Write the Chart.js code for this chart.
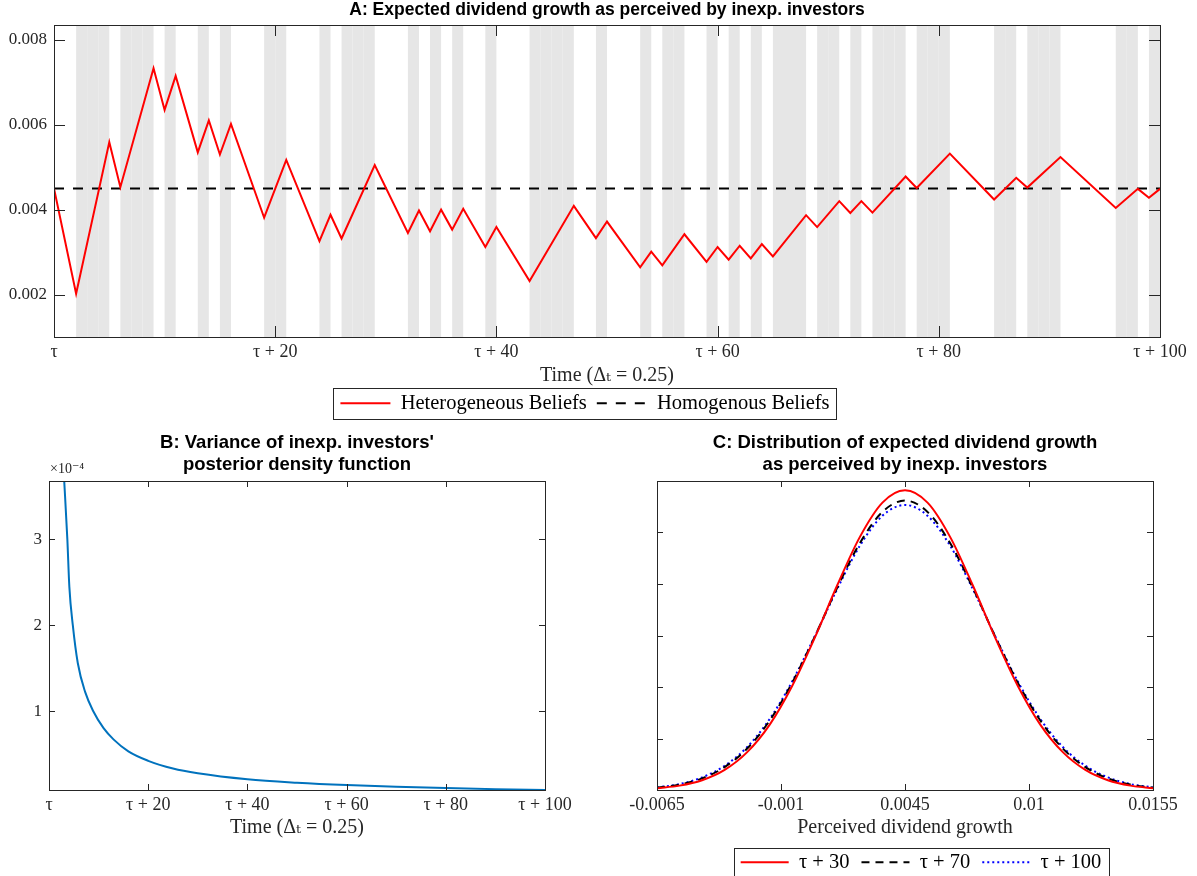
<!DOCTYPE html>
<html>
<head>
<meta charset="utf-8">
<script src="https://cdn.jsdelivr.net/npm/chart.js@4.4.1/dist/chart.umd.min.js"></script>
<style>
  html, body { margin: 0; padding: 0; background: #fff; overflow: hidden; width: 1197px; height: 876px; }
  canvas { position: absolute; display: block; }
  #chartA { left: 0; top: 0; }
  #chartB { left: 0; top: 430px; }
  #chartC { left: 600px; top: 430px; }
</style>
</head>
<body>
<canvas id="chartA" width="1197" height="425"></canvas>
<canvas id="chartB" width="600" height="446"></canvas>
<canvas id="chartC" width="597" height="460"></canvas>
<script>
// ---------- Panel A: expected dividend growth perceived by inexperienced investors ----------
const beliefTimes = [0, 2, 5, 6, 9, 10, 11, 13, 14, 15, 16, 19, 21, 24, 25, 26, 29, 32, 33, 34, 35, 36, 37,
  39, 40, 43, 47, 49, 50, 53, 54, 55, 57, 59, 60, 61, 62, 63, 64, 65, 68, 69, 71, 72, 73, 74, 77, 78, 81,
  85, 87, 88, 91, 96, 98, 99, 100];
const heterogeneousGrowth = [0.0045, 0.00202, 0.00559, 0.00453, 0.00733, 0.00635, 0.00715, 0.00535, 0.0061,
  0.0053, 0.00602, 0.00381, 0.00517, 0.00326, 0.00388, 0.00332, 0.00505, 0.00345, 0.00398, 0.00349, 0.0040,
  0.00353, 0.00402, 0.00312, 0.00359, 0.00232, 0.00409, 0.00333, 0.00372, 0.00264, 0.00301, 0.00269, 0.00342,
  0.00277, 0.00312, 0.00282, 0.00315, 0.00285, 0.00319, 0.0029, 0.00387, 0.00359, 0.0042, 0.00392, 0.0042,
  0.00393, 0.00478, 0.00451, 0.00532, 0.00424, 0.00475, 0.00452, 0.00524, 0.00404, 0.00449, 0.00428, 0.00449];
const homogeneousGrowth = 0.0045;
// periods with a positive dividend signal (shaded)
const shadedPeriods = [[2, 5], [6, 9], [10, 11], [13, 14], [15, 16], [19, 21], [24, 25], [26, 29], [32, 33],
  [34, 35], [36, 37], [39, 40], [43, 47], [49, 50], [53, 54], [55, 57], [59, 60], [61, 62], [63, 64], [65, 68],
  [69, 71], [72, 73], [74, 77], [78, 81], [85, 87], [88, 91], [96, 98], [99, 100]];
const timeTicks = [0, 20, 40, 60, 80, 100];
const timeTickLabels = ['τ', 'τ + 20', 'τ + 40', 'τ + 60', 'τ + 80', 'τ + 100'];
const growthTicks = [0.002, 0.004, 0.006, 0.008];
const growthTickLabels = ['0.002', '0.004', '0.006', '0.008'];

// ---------- Panel B: posterior variance (in units of 1e-4) ----------
const varianceTimes = [3.0, 3.7, 4.1, 4.8, 5.8, 7.3, 8.9, 11, 13, 16, 20, 25, 30, 40, 50, 60, 70, 80, 90, 100];
const posteriorVariance = [3.75, 3.0, 2.45, 2.0, 1.56, 1.22, 1.0, 0.80, 0.67, 0.53, 0.42, 0.33, 0.275, 0.205,
  0.165, 0.137, 0.117, 0.102, 0.09, 0.08];
const varianceTicks = [1, 2, 3];
const varianceTickLabels = ['1', '2', '3'];

// ---------- Panel C: densities of perceived dividend growth ----------
const perceivedGrowth = [-0.0065, -0.0055, -0.0045, -0.0035, -0.0025, -0.0015, -0.0005, 0.0005, 0.0015, 0.0025,
  0.0035, 0.0045, 0.0055, 0.0065, 0.0075, 0.0085, 0.0095, 0.0105, 0.0115, 0.0125, 0.0135, 0.0145, 0.0155];
const density30 = [0.7, 1.7, 3.8, 7.8, 14.7, 25.4, 40.5, 59.2, 79.6, 98.3, 111.6, 116.4, 111.6, 98.3, 79.6, 59.2,
  40.5, 25.4, 14.7, 7.8, 3.8, 1.7, 0.7];
const density70 = [0.9, 2.1, 4.5, 8.9, 16.1, 27.0, 41.7, 59.6, 78.7, 95.9, 108.0, 112.4, 108.0, 95.9, 78.7, 59.6,
  41.7, 27.0, 16.1, 8.9, 4.5, 2.1, 0.9];
const density100 = [1.0, 2.3, 4.9, 9.4, 16.7, 27.6, 42.2, 59.7, 78.2, 94.9, 106.5, 110.7, 106.5, 94.9, 78.2, 59.7,
  42.2, 27.6, 16.7, 9.4, 4.9, 2.3, 1.0];
const growthAxisTicks = [-0.0065, -0.001, 0.0045, 0.01, 0.0155];
const growthAxisLabels = ['-0.0065', '-0.001', '0.0045', '0.01', '0.0155'];
const densityTicks = [20, 40, 60, 80, 100];

// ---------- shared styling ----------
const AXIS_COLOR = '#262626';
const SERIF = "'Liberation Serif', 'DejaVu Serif', serif";
const SANS = "'Liberation Sans', Arial, sans-serif";
const pairs = (xs, ys) => xs.map((x, i) => ({ x, y: ys[i] }));

// Box frame with inward ticks on all four sides, optional shading, legend border, exponent label
const matlabFrame = {
  id: 'matlabFrame',
  afterLayout(chart, args, opts) {
    if (opts.legendShift && chart.legend) {
      chart.legend.left += opts.legendShift;
      chart.legend.right += opts.legendShift;
    }
  },
  beforeDatasetsDraw(chart, args, opts) {
    if (!opts.bands) return;
    const { ctx, chartArea: a, scales: { x } } = chart;
    ctx.save();
    ctx.fillStyle = '#e6e6e6';
    // each shaded period is filled one time step at a time
    for (const [s, e] of opts.bands) {
      for (let t = s; t < e; t++) {
        const x0 = x.getPixelForValue(t), x1 = x.getPixelForValue(t + 1);
        ctx.fillRect(x0, a.top, x1 - x0, a.bottom - a.top);
      }
    }
    ctx.restore();
  },
  afterDatasetsDraw(chart, args, opts) {
    const { ctx, chartArea: a, scales: { x, y } } = chart;
    const L = opts.tickLength || 6;
    ctx.save();
    ctx.strokeStyle = AXIS_COLOR;
    ctx.lineWidth = 1;
    ctx.beginPath();
    for (const t of x.ticks) {
      const px = Math.round(x.getPixelForValue(t.value)) + 0.5;
      ctx.moveTo(px, a.bottom); ctx.lineTo(px, a.bottom - L);
      ctx.moveTo(px, a.top); ctx.lineTo(px, a.top + L);
    }
    for (const t of y.ticks) {
      const py = Math.round(y.getPixelForValue(t.value)) + 0.5;
      ctx.moveTo(a.left, py); ctx.lineTo(a.left + L, py);
      ctx.moveTo(a.right, py); ctx.lineTo(a.right - L, py);
    }
    ctx.stroke();
    ctx.strokeRect(Math.round(a.left) + 0.5, Math.round(a.top) + 0.5,
      Math.round(a.right - a.left), Math.round(a.bottom - a.top));
    if (opts.exponent) {
      ctx.fillStyle = AXIS_COLOR;
      ctx.font = '14px ' + SERIF;
      ctx.textBaseline = 'middle';
      ctx.textAlign = 'left';
      ctx.fillText(opts.exponent, a.left + 1, a.top - 12);
    }
    ctx.restore();
  },
  afterDraw(chart, args, opts) {
    const lg = chart.legend;
    if (!opts.legendBorder || !lg || !lg.legendHitBoxes.length) return;
    const hb = lg.legendHitBoxes;
    const left = Math.min(...hb.map(h => h.left));
    const right = Math.max(...hb.map(h => h.left + h.width));
    const top = Math.min(...hb.map(h => h.top));
    const bottom = Math.max(...hb.map(h => h.top + h.height));
    const m = opts.legendBorder;
    const ctx = chart.ctx;
    ctx.save();
    ctx.strokeStyle = AXIS_COLOR;
    ctx.lineWidth = 1;
    ctx.strokeRect(Math.round(left - m.x) + 0.5, Math.round(top - m.y) + 0.5,
      Math.round(right - left + 2 * m.x), Math.round(bottom - top + 2 * m.y));
    ctx.restore();
  }
};

function xScale(min, max, values, labels, height, titleText, titleShift) {
  return {
    type: 'linear', min, max,
    afterBuildTicks: s => { s.ticks = values.map(v => ({ value: v })); },
    afterFit: s => { s.height = height; },
    grid: { display: false, drawTicks: false },
    border: { display: false },
    ticks: {
      color: AXIS_COLOR, padding: 4, maxRotation: 0, autoSkip: false,
      font: { family: SERIF, size: 18 },
      callback: (v, i) => labels[i]
    },
    title: {
      display: !!titleText, text: titleText, color: AXIS_COLOR,
      font: { family: SERIF, size: 20 }, padding: { top: 0, bottom: -(titleShift || 0) }
    }
  };
}

function yScale(min, max, values, labels, width, showLabels) {
  return {
    type: 'linear', min, max,
    afterBuildTicks: s => { s.ticks = values.map(v => ({ value: v })); },
    afterFit: s => { s.width = width; },
    grid: { display: false, drawTicks: false },
    border: { display: false },
    ticks: {
      display: showLabels, color: AXIS_COLOR, padding: 7, autoSkip: false,
      font: { family: SERIF, size: 17 },
      callback: (v, i) => labels ? labels[i] : ''
    }
  };
}

function titleOpts(text, size, padding) {
  return {
    display: true, text, fullSize: false, color: '#000',
    font: { family: SANS, size, weight: 'bold', lineHeight: 1.2 },
    padding
  };
}

// legend entries carry each dataset's own dash pattern and width
function legendLabels(chart) {
  return Chart.defaults.plugins.legend.labels.generateLabels(chart).map(item => {
    const ds = chart.data.datasets[item.datasetIndex];
    item.lineDash = ds.borderDash || [];
    item.lineWidth = ds.borderWidth;
    item.strokeStyle = ds.borderColor;
    item.pointStyle = 'line';
    return item;
  });
}

function legendOpts(fontSize, padding, sampleWidth) {
  return {
    display: true, position: 'bottom', fullSize: false,
    labels: {
      usePointStyle: true, pointStyleWidth: sampleWidth, boxHeight: fontSize,
      color: '#000', padding,
      font: { family: SERIF, size: fontSize },
      generateLabels: legendLabels
    }
  };
}

Chart.defaults.animation = false;
Chart.defaults.responsive = false;

// ---------- Panel A ----------
new Chart(document.getElementById('chartA'), {
  type: 'line',
  data: {
    datasets: [
      {
        label: 'Heterogeneous Beliefs',
        data: pairs(beliefTimes, heterogeneousGrowth),
        borderColor: '#ff0000', borderWidth: 2, pointRadius: 0, tension: 0, clip: 0
      },
      {
        label: 'Homogenous Beliefs',
        data: pairs([0, 100], [homogeneousGrowth, homogeneousGrowth]),
        borderColor: '#000000', borderWidth: 2, borderDash: [10, 9], pointRadius: 0, clip: 0
      }
    ]
  },
  options: {
    layout: { padding: { left: 0, right: 37, top: 0, bottom: 1.5 } },
    scales: {
      x: xScale(0, 100, timeTicks, timeTickLabels, 46, 'Time (Δₜ = 0.25)', 5),
      y: yScale(0.001, 0.00835, growthTicks, growthTickLabels, 54, true)
    },
    plugins: {
      title: titleOpts('A: Expected dividend growth as perceived by inexp. investors', 17.5, { top: 0, bottom: 4 }),
      legend: legendOpts(20.5, 10, 50),
      tooltip: { enabled: false },
      matlabFrame: { bands: shadedPeriods, tickLength: 11, legendBorder: { x: 7, y: 5 }, legendShift: -22 }
    }
  },
  plugins: [matlabFrame]
});

// ---------- Panel B ----------
new Chart(document.getElementById('chartB'), {
  type: 'line',
  data: {
    datasets: [{
      label: 'Posterior variance',
      data: pairs(varianceTimes, posteriorVariance),
      borderColor: '#0072bd', borderWidth: 2, pointRadius: 0, cubicInterpolationMode: 'monotone', clip: 0
    }]
  },
  options: {
    layout: { padding: { left: 0, right: 55, top: 0, bottom: 36 } },
    scales: {
      x: xScale(0, 100, timeTicks, timeTickLabels, 50, 'Time (Δₜ = 0.25)'),
      y: yScale(0.08, 3.68, varianceTicks, varianceTickLabels, 49, true)
    },
    plugins: {
      title: titleOpts(["B: Variance of inexp. investors'", 'posterior density function'], 18.5, { top: 2, bottom: 4.6 }),
      legend: { display: false },
      tooltip: { enabled: false },
      matlabFrame: { tickLength: 6, exponent: '×10⁻⁴' }
    }
  },
  plugins: [matlabFrame]
});

// ---------- Panel C ----------
new Chart(document.getElementById('chartC'), {
  type: 'line',
  data: {
    datasets: [
      {
        label: 'τ + 30', data: pairs(perceivedGrowth, density30),
        borderColor: '#ff0000', borderWidth: 2, pointRadius: 0,
        cubicInterpolationMode: 'monotone', clip: 0
      },
      {
        label: 'τ + 70', data: pairs(perceivedGrowth, density70),
        borderColor: '#000000', borderWidth: 2, borderDash: [8, 6], pointRadius: 0,
        cubicInterpolationMode: 'monotone', clip: 0
      },
      {
        label: 'τ + 100', data: pairs(perceivedGrowth, density100),
        borderColor: '#0000ff', borderWidth: 2, borderDash: [2, 3], pointRadius: 0,
        cubicInterpolationMode: 'monotone', clip: 0
      }
    ]
  },
  options: {
    layout: { padding: { left: 0, right: 44, top: 0, bottom: 7.5 } },
    scales: {
      x: xScale(-0.0065, 0.0155, growthAxisTicks, growthAxisLabels, 50, 'Perceived dividend growth'),
      y: yScale(0, 120, densityTicks, null, 57, false)
    },
    plugins: {
      title: titleOpts(['C: Distribution of expected dividend growth', 'as perceived by inexp. investors'], 18.5, { top: 2, bottom: 4.6 }),
      legend: legendOpts(20.5, 12, 48),
      tooltip: { enabled: false },
      matlabFrame: { tickLength: 6, legendBorder: { x: 7, y: 4 }, legendShift: 16 }
    }
  },
  plugins: [matlabFrame]
});
</script>
</body>
</html>
